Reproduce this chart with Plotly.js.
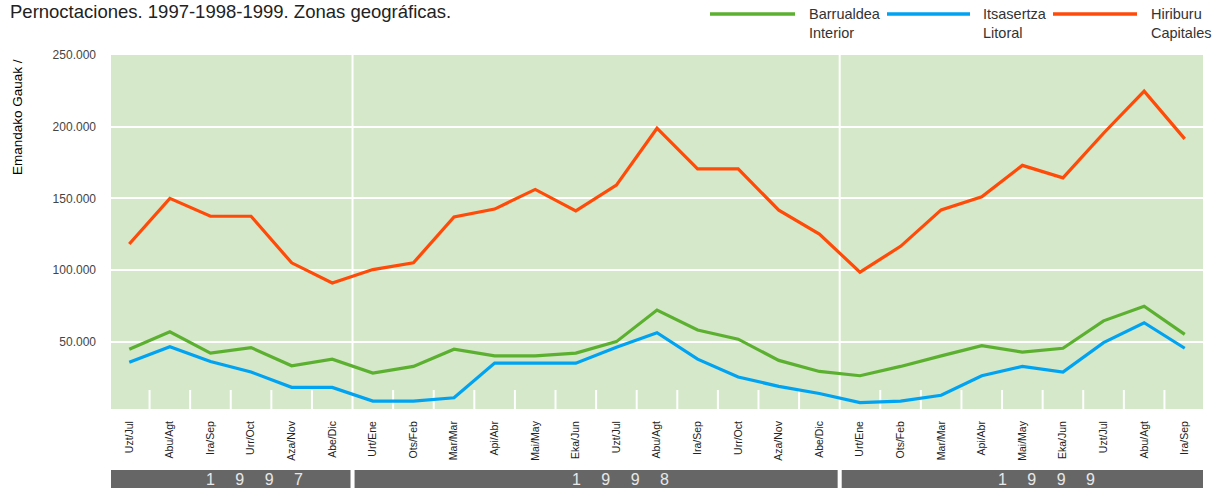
<!DOCTYPE html>
<html><head><meta charset="utf-8">
<script src="https://cdn.plot.ly/plotly-3.0.1.min.js"></script>
<style>body{margin:0;background:#fff}#c{width:1227px;height:488px}</style>
</head><body><div id="c"></div>
<script>
const months = ["Uzt/Jul","Abu/Agt","Ira/Sep","Urr/Oct","Aza/Nov","Abe/Dic",
 "Urt/Ene","Ots/Feb","Mar/Mar","Api/Abr","Mai/May","Eka/Jun","Uzt/Jul","Abu/Agt","Ira/Sep","Urr/Oct","Aza/Nov","Abe/Dic",
 "Urt/Ene","Ots/Feb","Mar/Mar","Api/Abr","Mai/May","Eka/Jun","Uzt/Jul","Abu/Agt","Ira/Sep"];
const years = ["1997","1998","1999"];
const yearCounts = [6,12,9];
const interior = [44700,56900,42000,45800,33200,37800,28100,32700,44700,40100,40100,42000,50000,72000,58100,51700,36900,29200,26200,32700,40100,47200,42700,45400,64500,74700,55100];
const litoral = [35700,46500,36100,28800,18100,18100,8500,8500,10800,35000,35000,35000,46100,56200,37800,25300,18800,13800,7500,8500,12600,26200,32700,28800,49300,63200,45400];
const capitales = [118100,150000,137500,137500,105000,90900,100300,105000,137000,142500,156200,141200,159200,198900,170500,170500,141700,125000,98500,116500,141900,151100,173000,164300,195400,224800,191500];
const seriesNames = ["Barrualdea<br>Interior","Itsasertza<br>Litoral","Hiriburu<br>Capitales"];
const colors = ["#5cb030","#00a2f2","#ff4a08"];
const yTicks = [50000,100000,150000,200000,250000];
const yTickText = ["50.000","100.000","150.000","200.000","250.000"];

const W=1227,H=488,L=111,R=24,T=55,B=79;
const pw=W-L-R, ph=H-T-B;
const px=x=>(x-L)/pw, py=y=>(H-B-y)/ph;
const xs = months.map((m,i)=>i);
const data = [interior,litoral,capitales].map((v,k)=>({
  x:xs,y:v,type:'scatter',mode:'lines',name:seriesNames[k],
  line:{color:colors[k],width:3.2},showlegend:false,hoverinfo:'y'}));

const shapes=[], ann=[];
let start=0;
years.forEach((yr,i)=>{
  const end=start+yearCounts[i];
  const x0 = i===0 ? -0.45 : start-0.5+0.05;
  const x1 = i===years.length-1 ? months.length-1+0.45 : end-0.5-0.05;
  shapes.push({type:'rect',xref:'x',yref:'paper',x0:x0,x1:x1,y0:py(488),y1:py(470),fillcolor:'#666666',line:{width:0},layer:'above'});
  ann.push({xref:'x',yref:'paper',x:(x0+x1)/2,y:py(479),xshift:24,text:yr.split('').join('\u2003 '),showarrow:false,font:{family:'Liberation Sans, Arial',size:16,color:'#e8e8e8'},xanchor:'center',yanchor:'middle'});
  if(i<years.length-1){
    shapes.push({type:'line',xref:'x',yref:'paper',x0:end-0.5,x1:end-0.5,y0:0,y1:1,line:{color:'#ffffff',width:2},layer:'below'});
  }
  start=end;
});
const bounds = []; let acc=0; yearCounts.forEach(c=>{acc+=c;bounds.push(acc-0.5);});
for(let i=0;i<months.length-1;i++){
  const xv=i+0.5;
  if(bounds.includes(xv)) continue;
  shapes.push({type:'line',xref:'x',yref:'paper',x0:xv,x1:xv,y0:0,y1:py(390),line:{color:'#ffffff',width:2},layer:'below'});
}
const legX=[[710,795,807],[887,970,981],[1053,1137,1149]];
seriesNames.forEach((n,k)=>{
  shapes.push({type:'line',xref:'paper',yref:'paper',x0:px(legX[k][0]),x1:px(legX[k][1]),y0:py(14),y1:py(14),line:{color:colors[k],width:3.5}});
  ann.push({xref:'paper',yref:'paper',x:px(legX[k][2]),y:py(4),xanchor:'left',yanchor:'top',align:'left',showarrow:false,text:n,font:{family:'Liberation Sans, Arial',size:14.5,color:'#333'}});
});
ann.push({xref:'paper',yref:'paper',x:px(8),y:py(11),xanchor:'left',yanchor:'middle',showarrow:false,text:'Pernoctaciones. 1997-1998-1999. Zonas geográficas.',font:{family:'Liberation Sans, Arial',size:18.5,color:'#222'}});
ann.push({xref:'paper',yref:'paper',x:px(17),y:py(117),xanchor:'center',yanchor:'middle',textangle:-90,showarrow:false,text:'Emandako Gauak /',font:{family:'Liberation Sans, Arial',size:13.5,color:'#000'}});

const layout={
  width:W,height:H,margin:{l:L,r:R,t:T,b:B,pad:0},
  paper_bgcolor:'#ffffff',plot_bgcolor:'#d5e8c9',
  xaxis:{range:[-0.45,months.length-1+0.45],tickvals:xs,ticktext:months,tickangle:-90,showgrid:false,zeroline:false,showline:false,ticks:'',
    tickfont:{family:'Liberation Sans Narrow, Liberation Sans, Arial',size:10.5,color:'#222'},ticklabelstandoff:9},
  yaxis:{range:[3000,250000],tickvals:yTicks,ticktext:yTickText,showgrid:true,gridcolor:'#ffffff',gridwidth:2,zeroline:false,showline:false,ticks:'',
    tickfont:{family:'Liberation Sans Narrow, Liberation Sans, Arial',size:12,color:'#444'},ticklabelstandoff:14},
  shapes:shapes,annotations:ann,showlegend:false
};
Plotly.newPlot('c',data,layout,{displayModeBar:false,staticPlot:true});
</script></body></html>
